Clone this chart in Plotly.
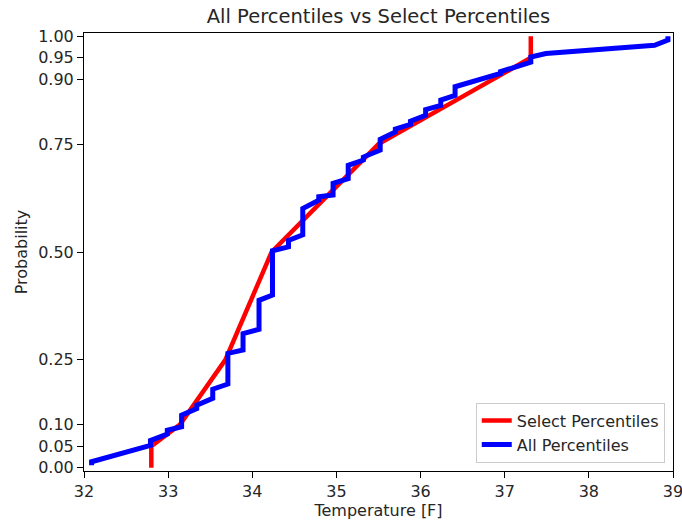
import plotly.graph_objects as go

# Select percentiles (red)
select_temp = [32.80, 32.80, 33.14, 33.68, 34.23, 35.50, 36.86, 37.31, 37.31]
select_prob = [0.00, 0.05, 0.10, 0.25, 0.50, 0.75, 0.90, 0.95, 1.00]

# All percentiles (blue)
all_temp = [32.09, 32.09, 32.79, 32.79, 32.99, 32.99, 33.16, 33.16, 33.34, 33.34,
            33.53, 33.53, 33.71, 33.71, 33.89, 33.89, 34.08, 34.08, 34.24, 34.24,
            34.43, 34.43, 34.60, 34.60, 34.79, 34.79, 34.96, 34.96, 35.14, 35.14,
            35.32, 35.32, 35.52, 35.52, 35.70, 35.70, 35.88, 35.88, 36.06, 36.06,
            36.24, 36.24, 36.41, 36.41, 36.95, 36.95, 37.31, 37.31, 37.49, 38.78,
            38.94, 38.94]
all_prob = [0.006, 0.014, 0.052, 0.063, 0.078, 0.087, 0.095, 0.122, 0.137, 0.145,
            0.161, 0.182, 0.194, 0.265, 0.273, 0.311, 0.321, 0.388, 0.400, 0.503,
            0.512, 0.527, 0.540, 0.601, 0.620, 0.628, 0.632, 0.659, 0.670, 0.701,
            0.713, 0.720, 0.736, 0.761, 0.778, 0.785, 0.796, 0.803, 0.817, 0.830,
            0.840, 0.852, 0.863, 0.883, 0.914, 0.918, 0.940, 0.952, 0.960, 0.979,
            0.991, 1.000]

ytick_vals = [0.00, 0.05, 0.10, 0.25, 0.50, 0.75, 0.90, 0.95, 1.00]
ytick_text = ["0.00", "0.05", "0.10", "0.25", "0.50", "0.75", "0.90", "0.95", "1.00"]
xtick_vals = [32, 33, 34, 35, 36, 37, 38, 39]

FONT = "DejaVu Sans"
FS = 16
TXT = "#262626"

fig = go.Figure()
fig.add_trace(go.Scatter(x=select_temp, y=select_prob, mode="lines",
                         name="Select Percentiles",
                         line=dict(color="#ff0000", width=4.5)))
fig.add_trace(go.Scatter(x=all_temp, y=all_prob, mode="lines",
                         name="All Percentiles",
                         line=dict(color="#0000ff", width=5)))

axis_common = dict(showgrid=False, zeroline=False, showline=True, linecolor="black",
                   linewidth=1, mirror=True, ticks="outside", ticklen=6,
                   tickcolor="black", tickwidth=1, automargin=False,
                   ticklabeloverflow="allow",
                   tickfont=dict(family=FONT, size=FS, color=TXT))

fig.update_layout(
    width=682, height=522,
    margin=dict(l=84, r=9, t=33, b=51),
    paper_bgcolor="white", plot_bgcolor="white",
    font=dict(family=FONT, size=FS, color=TXT),
    title=dict(text="All Percentiles vs Select Percentiles", x=0.5, xref="paper",
               xanchor="center", y=1 - 16 / 522, yref="container", yanchor="middle",
               font=dict(family=FONT, size=19.5, color=TXT)),
    xaxis=dict(range=[32, 39], tickvals=xtick_vals,
               title=dict(text="Temperature [F]", standoff=4,
                          font=dict(family=FONT, size=FS, color=TXT)),
               **axis_common),
    yaxis=dict(range=[-0.0075, 1.0075], tickvals=ytick_vals, ticktext=ytick_text,
               title=dict(text="Probability", standoff=6,
                          font=dict(family=FONT, size=FS, color=TXT)),
               **axis_common),
    legend=dict(x=0.986, y=0.019, xanchor="right", yanchor="bottom",
                bgcolor="rgba(255,255,255,0.8)", bordercolor="#cccccc", borderwidth=1,
                font=dict(family=FONT, size=FS, color=TXT),
                itemwidth=30, tracegroupgap=0),
    showlegend=True,
)

fig.write_html("out.html")
